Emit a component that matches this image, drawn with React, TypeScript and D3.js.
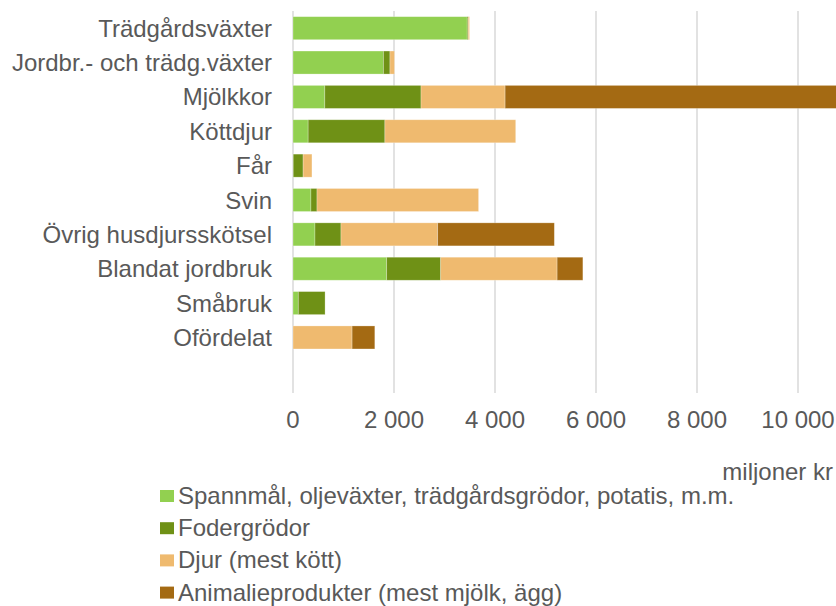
import React from "react";
import * as d3 from "d3";

const categories = [
  "Trädgårdsväxter",
  "Jordbr.- och trädg.växter",
  "Mjölkkor",
  "Köttdjur",
  "Får",
  "Svin",
  "Övrig husdjursskötsel",
  "Blandat jordbruk",
  "Småbruk",
  "Ofördelat",
  "",
];

const seriesNames = [
  "Spannmål, oljeväxter, trädgårdsgrödor, potatis, m.m.",
  "Fodergrödor",
  "Djur (mest kött)",
  "Animalieprodukter (mest mjölk, ägg)",
];

const spannmal = [3450, 1790, 630, 300, 5, 355, 435, 1855, 105, 0, 0];
const fodergrodor = [20, 130, 1905, 1520, 195, 120, 515, 1070, 530, 0, 0];
const djur = [25, 90, 1665, 2590, 175, 3200, 1915, 2305, 0, 1170, 0];
const animalie = [0, 0, 7000, 0, 0, 0, 2310, 510, 0, 450, 0];

const colors = ["#92D050", "#6F9116", "#EFBA6F", "#A46A13"];
const xTicks = [0, 2000, 4000, 6000, 8000, 10000];

const W = 836;
const H = 606;

export default function App() {
  const x = d3.scaleLinear().domain([0, 10000]).range([293, 798]);
  const y = d3
    .scaleBand<string>()
    .domain(categories.map((c, i) => c + "#" + i))
    .range([11, 389])
    .paddingInner(0.33)
    .paddingOuter(0.165);

  const table = categories.map((c, i) => ({
    key: c + "#" + i,
    label: c,
    s0: spannmal[i],
    s1: fodergrodor[i],
    s2: djur[i],
    s3: animalie[i],
  }));
  const stack = d3.stack<any>().keys(["s0", "s1", "s2", "s3"]);
  const layers = stack(table);
  const fmt = (v: number) => d3.format(",")(v).replace(/,/g, " ");
  const font = "'Liberation Sans', Arial, sans-serif";
  const textColor = "#595959";

  return (
    <svg
      width={W}
      height={H}
      style={{ position: "absolute", left: 0, top: 0, background: "#fff" }}
    >
      {xTicks.map((t) => (
        <line
          key={"g" + t}
          x1={x(t)}
          x2={x(t)}
          y1={11}
          y2={393}
          stroke="#D9D9D9"
          strokeWidth={1.5}
        />
      ))}
      {layers.map((layer, li) => (
        <g key={"l" + li} fill={colors[li]}>
          {layer.map((d, i) =>
            d[1] - d[0] > 0 ? (
              <rect
                key={i}
                x={x(d[0])}
                y={y(table[i].key)}
                width={x(d[1]) - x(d[0])}
                height={y.bandwidth()}
                stroke="#ffffff"
                strokeOpacity={0.35}
                strokeWidth={0.75}
              />
            ) : null
          )}
        </g>
      ))}
      {table.map((d) => (
        <text
          key={"c" + d.key}
          x={272}
          y={(y(d.key) as number) + y.bandwidth() / 2 + 8.5}
          textAnchor="end"
          fontFamily={font}
          fontSize={24}
          fill={textColor}
        >
          {d.label}
        </text>
      ))}
      {xTicks.map((t) => (
        <text
          key={"t" + t}
          x={x(t)}
          y={428}
          textAnchor="middle"
          fontFamily={font}
          fontSize={24}
          fill={textColor}
        >
          {fmt(t)}
        </text>
      ))}
      <text
        x={833}
        y={480}
        textAnchor="end"
        fontFamily={font}
        fontSize={24}
        fill={textColor}
      >
        miljoner kr
      </text>
      {seriesNames.map((s, i) => (
        <g key={"lg" + i} transform={`translate(160, ${496 + i * 32.2})`}>
          <rect x={0} y={-6} width={14} height={12} fill={colors[i]} />
          <text
            x={18}
            y={8}
            fontFamily={font}
            fontSize={24}
            fill={textColor}
          >
            {s}
          </text>
        </g>
      ))}
    </svg>
  );
}
